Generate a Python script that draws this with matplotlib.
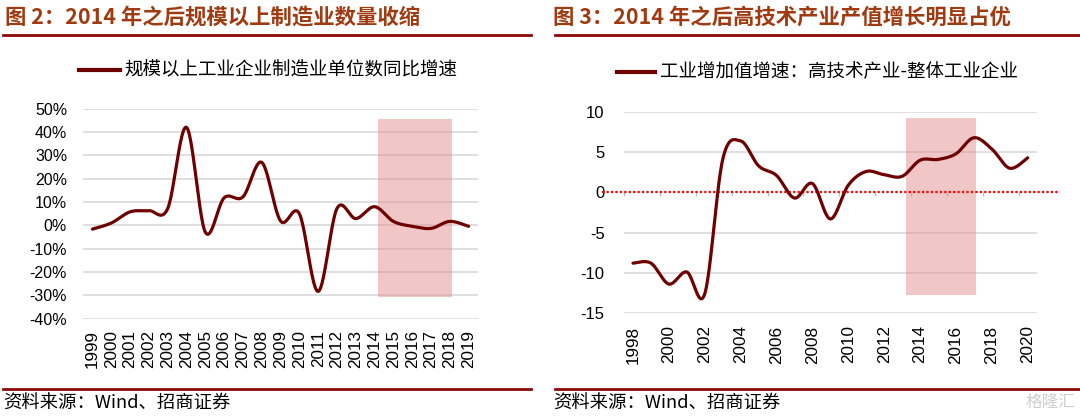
import numpy as np
import matplotlib
matplotlib.use("Agg")
import matplotlib.pyplot as plt
from matplotlib.lines import Line2D

plt.rcParams["font.family"] = ["Liberation Sans", "Noto Sans CJK SC", "DejaVu Sans"]
CJK = ["Noto Sans CJK SC", "DejaVu Sans"]

# ---- data: figure 2 (manufacturing enterprise count yoy, %)
years_left = list(range(1999, 2020))
count_yoy = [-1.6, 1.0, 5.8, 6.3, 7.2, 42.0, -2.9, 11.8, 12.2, 27.0, 1.9,
             5.0, -28.3, 7.2, 2.9, 8.0, 1.7, -0.4, -1.3, 1.7, -0.4]
shade_left_x = (2014.2, 2018.1)
shade_left_y = (-30.6, 45.6)
left_yticks = [50, 40, 30, 20, 10, 0, -10, -20, -30, -40]

# ---- data: figure 3 (high-tech minus all industry, value-added growth, pct pt)
years_right = list(range(1998, 2021))
tech_gap = [-8.8, -8.8, -11.4, -9.9, -12.6, 4.1, 6.4, 3.3, 2.1, -0.7, 1.1, -3.3,
            0.9, 2.6, 2.2, 2.0, 4.0, 4.1, 4.8, 6.8, 5.4, 3.0, 4.3]
shade_right_x = (2013.2, 2017.1)
shade_right_y = (-12.75, 9.27)
right_yticks = [10, 5, 0, -5, -10, -15]
right_xlabels = list(range(1998, 2021, 2))

LINE_C = "#6E0000"
SHADE_C = "#E38E8E"
GRID_C = "#D9D9D9"
TITLE_C = "#A03A10"
RULE_C = "#8B0A0A"


def smooth(x, y, n=24):
    # Catmull-Rom spline, close to Excel's smoothed line
    x = np.asarray(x, float)
    y = np.asarray(y, float)
    px = np.concatenate([[x[0]], x, [x[-1]]])
    py = np.concatenate([[y[0]], y, [y[-1]]])
    t = np.linspace(0, 1, n, endpoint=False)
    xs, ys = [], []
    for i in range(1, len(px) - 2):
        for p, out in ((px, xs), (py, ys)):
            p0, p1, p2, p3 = p[i - 1], p[i], p[i + 1], p[i + 2]
            out.append(0.5 * (2 * p1 + (-p0 + p2) * t
                              + (2 * p0 - 5 * p1 + 4 * p2 - p3) * t ** 2
                              + (-p0 + 3 * p1 - 3 * p2 + p3) * t ** 3))
    xs.append([x[-1]])
    ys.append([y[-1]])
    return np.concatenate(xs), np.concatenate(ys)


fig = plt.figure(figsize=(10.8, 4.16), dpi=100)

# ---------- left chart
ax1 = fig.add_axes([0.0769, 0.2339, 0.3657, 0.5048])
ax1.set_xlim(years_left[0] - 0.5, years_left[-1] + 0.5)
ax1.set_ylim(-40, 50)
for v in left_yticks:
    ax1.axhline(v, color=GRID_C, lw=1.2, zorder=1)
ax1.fill_between(shade_left_x, shade_left_y[0], shade_left_y[1],
                 color=SHADE_C, alpha=0.5, lw=0, zorder=2)
sx, sy = smooth(years_left, count_yoy)
ax1.plot(sx, sy, color=LINE_C, lw=2.3, zorder=3, solid_capstyle="round")
ax1.set_yticks(left_yticks)
ax1.set_yticklabels([f"{v}%" for v in left_yticks], fontsize=11.5)
ax1.set_xticks(years_left)
ax1.set_xticklabels([str(y) for y in years_left], rotation=90, fontsize=12.3)
ax1.tick_params(axis="both", length=0)
ax1.tick_params(axis="y", pad=11.5)
ax1.tick_params(axis="x", pad=8)
for s in ax1.spines.values():
    s.set_visible(False)

# ---------- right chart
ax2 = fig.add_axes([0.5778, 0.2476, 0.3821, 0.4832])
ax2.set_xlim(years_right[0] - 0.5, years_right[-1] + 0.5)
ax2.set_ylim(-15, 10)
for v in right_yticks:
    if v != 0:
        ax2.axhline(v, color=GRID_C, lw=1.2, zorder=1)
ax2.fill_between(shade_right_x, shade_right_y[0], shade_right_y[1],
                 color=SHADE_C, alpha=0.5, lw=0, zorder=2)
sx, sy = smooth(years_right, tech_gap)
ax2.plot(sx, sy, color=LINE_C, lw=2.3, zorder=4, solid_capstyle="round")
ax2.axhline(0, xmin=-0.054, xmax=1.056, color="red", lw=1.6,
            ls=(0, (1, 1)), zorder=3, clip_on=False)
ax2.set_yticks(right_yticks)
ax2.set_yticklabels([str(v) for v in right_yticks], fontsize=12)
ax2.tick_params(axis="y", length=0, pad=14)
for s in ax2.spines.values():
    s.set_visible(False)
ax2.spines["bottom"].set_position(("data", 0))
ax2.set_xticks([y - 0.5 for y in right_xlabels])
ax2.set_xticklabels([])
ax2.tick_params(axis="x", length=3, color="#BFBFBF", width=1)
sec = ax2.secondary_xaxis("bottom")
sec.set_xticks(right_xlabels)
sec.set_xticklabels([str(y) for y in right_xlabels], rotation=90, fontsize=12.3)
sec.tick_params(length=0, pad=9)
for s in sec.spines.values():
    s.set_visible(False)

# ---------- titles, rules, legends, sources
fig.text(5 / 1080, 1 - 17 / 416, "图 2：2014 年之后规模以上制造业数量收缩",
         family=CJK, fontsize=15.4, fontweight="bold", color=TITLE_C, va="center")
fig.text(553 / 1080, 1 - 17 / 416, "图 3：2014 年之后高技术产业产值增长明显占优",
         family=CJK, fontsize=15.4, fontweight="bold", color=TITLE_C, va="center")

for (x0, x1) in ((3, 531), (555, 1080)):
    for yy in (35, 389):
        fig.add_artist(Line2D([x0 / 1080, x1 / 1080], [1 - yy / 416] * 2,
                              color=RULE_C, lw=2))

fig.add_artist(Line2D([79 / 1080, 120 / 1080], [1 - 70 / 416] * 2,
                      color=LINE_C, lw=3))
fig.text(124 / 1080, 1 - 70 / 416, "规模以上工业企业制造业单位数同比增速",
         family=CJK, fontsize=13.3, va="center")
fig.add_artist(Line2D([617 / 1080, 655 / 1080], [1 - 72 / 416] * 2,
                      color=LINE_C, lw=3))
fig.text(660 / 1080, 1 - 72 / 416, "工业增加值增速：高技术产业-整体工业企业",
         family=CJK, fontsize=13.3, va="center")

fig.text(3 / 1080, 1 - 404 / 416, "资料来源：Wind、招商证券",
         family=CJK, fontsize=13.2, va="center")
fig.text(553 / 1080, 1 - 404 / 416, "资料来源：Wind、招商证券",
         family=CJK, fontsize=13.2, va="center")
fig.text(1075 / 1080, 1 - 402 / 416, "格隆汇", family=CJK, fontsize=12,
         color="#CFCFCF", ha="right", va="center")

fig.savefig("out.png", dpi=100)
